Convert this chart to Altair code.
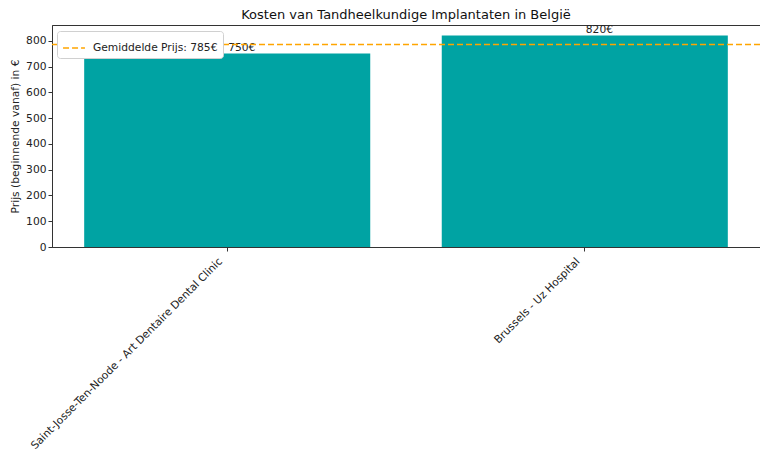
import altair as alt
import pandas as pd

categories = ["Saint-Josse-Ten-Noode - Art Dentaire Dental Clinic", "Brussels - Uz Hospital"]
prices = [750, 820]
avg_label = ["Gemiddelde Prijs: 785€"]
avg_value = [785]
y_ticks = [0, 100, 200, 300, 400, 500, 600, 700, 800]

df = pd.DataFrame({"cat": categories, "price": prices})
df["label"] = [f"{p}€" for p in prices]
df_avg = pd.DataFrame({"label": avg_label, "y": avg_value})

FONT = "DejaVu Sans"
FS = 10.7

x_axis = alt.Axis(labelAngle=-45, labelAlign="right", labelBaseline="top",
                  labelFontSize=FS, labelColor="#222", tickColor="#333",
                  tickSize=4, domainColor="#333", labelPadding=5, labelOffset=-10,
                  labelLimit=400)
x_scale = alt.Scale(paddingInner=0.2, paddingOuter=0.09)
y_axis = alt.Axis(values=y_ticks, grid=False, labelFontSize=FS, labelColor="#222",
                  labelOverlap=False, tickColor="#333", tickSize=4, domainColor="#333",
                  titleFontSize=FS, titleFontWeight="normal", titleColor="#222",
                  titlePadding=5, labelPadding=2)
y_scale = alt.Scale(domain=[0, 861], nice=False)
y_title = "Prijs (beginnende vanaf) in €"

bars = alt.Chart(df).mark_bar(color="#00A3A3").encode(
    x=alt.X("cat:N", sort=categories, title=None, scale=x_scale, axis=x_axis),
    y=alt.Y("price:Q", scale=y_scale, title=y_title, axis=y_axis),
)

texts = alt.Chart(df).mark_text(align="left", baseline="bottom", dx=1, dy=-1,
                                fontSize=FS, color="#222", font=FONT).encode(
    x=alt.X("cat:N", sort=categories, title=None, scale=x_scale, axis=x_axis),
    y=alt.Y("price:Q", scale=y_scale, title=y_title, axis=y_axis),
    text="label:N",
)

rule = alt.Chart(df_avg).mark_rule(strokeDash=[6, 3], strokeWidth=1.5).encode(
    y=alt.Y("y:Q", scale=y_scale, title=y_title, axis=y_axis),
    color=alt.Color("label:N", scale=alt.Scale(range=["#FFA500"]),
                    legend=alt.Legend(title=None, orient="none", legendX=5, legendY=6,
                                      symbolType="stroke", symbolStrokeWidth=1.5,
                                      symbolDash=[6, 3], symbolSize=480,
                                      fillColor="white", strokeColor="#d0d0d0",
                                      padding=5, cornerRadius=3, labelFontSize=FS,
                                      labelOffset=7, labelColor="#222")),
)

chart = alt.layer(bars, texts, rule).properties(
    width=708, height=222,
    title=alt.TitleParams("Kosten van Tandheelkundige Implantaten in België",
                          fontSize=13, fontWeight="normal", color="#111", offset=2),
    autosize=alt.AutoSizeParams(type="none"),
    padding={"left": 44, "top": 17, "right": 0, "bottom": 205},
).configure(font=FONT).configure_view(stroke="#333", strokeWidth=1)

chart.save("out.html", embed_options={"renderer": "svg", "actions": False})
